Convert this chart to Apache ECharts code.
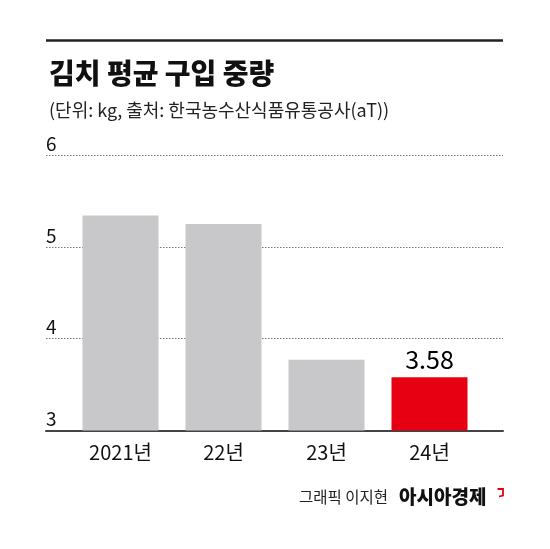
<!DOCTYPE html>
<html><head><meta charset="utf-8">
<script src="https://cdn.jsdelivr.net/npm/echarts@6/dist/echarts.min.js"></script>
<style>html,body{margin:0;padding:0;background:#fff}#c{width:550px;height:549px}</style>
</head><body><div id="c"></div>
<script>
const categories = ['2021년', '22년', '23년', '24년'];
const values = [5.34, 5.25, 3.77, 3.58];
const highlightIndex = 3;
const yMin = 3, yMax = 6, yStep = 1;
const titleText = '김치 평균 구입 중량';
const subtitleText = '(단위: kg, 출처: 한국농수산식품유통공사(aT))';
const creditText = '그래픽 이지현';
const brandText = '아시아경제';

const FONT = '"Noto Sans CJK KR", "Noto Sans", sans-serif';
const chart = echarts.init(document.getElementById('c'), null, {renderer: 'canvas'});

const barData = values.map((v, i) => i === highlightIndex ? {
  value: v,
  itemStyle: {color: '#e60012'},
  label: {show: true, position: 'top', distance: 5, formatter: '{c}', fontSize: 25, fontWeight: 'normal', color: '#000', fontFamily: FONT}
} : {value: v, itemStyle: {color: '#c8c8ca'}});

chart.setOption({
  backgroundColor: '#fff',
  animation: false,
  title: [
    {text: titleText, left: 44, top: 54, textStyle: {fontFamily: FONT, fontSize: 28, fontWeight: 900, color: '#111'}},
    {text: subtitleText, left: 44, top: 96, textStyle: {fontFamily: FONT, fontSize: 18, fontWeight: 'normal', color: '#222'}},
    {text: creditText, left: 294, top: 484, textStyle: {fontFamily: FONT, fontSize: 15.5, fontWeight: 'normal', color: '#222'}},
    {text: brandText, left: 394, top: 482, textStyle: {fontFamily: FONT, fontSize: 19, fontWeight: 900, color: '#111'}}
  ],
  graphic: [
    {type: 'line', shape: {x1: 46, y1: 40.5, x2: 503, y2: 40.5}, style: {stroke: '#222', lineWidth: 2.5}},
    {type: 'polyline', shape: {points: [[497.5, 489], [503, 489], [503, 495.5], [499, 496.5]]}, style: {stroke: '#e60012', lineWidth: 1.8, fill: null}}
  ],
  grid: [
    {left: 46, right: 47, top: 155, bottom: 118.5},
    {left: 69, right: 69, top: 155, bottom: 118.5}
  ],
  xAxis: [
    {gridIndex: 0, type: 'value', min: 0, max: 1, show: true,
      axisLine: {show: true, onZero: false, lineStyle: {color: '#444', width: 2}},
      axisTick: {show: false}, axisLabel: {show: false}, splitLine: {show: false}},
    {gridIndex: 1, type: 'category', data: categories,
      axisLine: {show: false}, axisTick: {show: false},
      axisLabel: {margin: 12, fontSize: 20, color: '#111', fontFamily: FONT}}
  ],
  yAxis: [
    {gridIndex: 0, type: 'value', min: yMin, max: yMax, interval: yStep,
      axisLine: {show: false}, axisTick: {show: false},
      axisLabel: {inside: true, margin: 0, align: 'left', verticalAlign: 'bottom', padding: [0, 0, 2, 0], lineHeight: 19,
        fontSize: 19, color: '#111', fontFamily: FONT},
      splitLine: {show: true, lineStyle: {color: '#777', type: [1.5, 1.5], width: 1}}},
    {gridIndex: 1, type: 'value', min: yMin, max: yMax, interval: yStep, show: false, splitLine: {show: false}}
  ],
  series: [{
    type: 'bar', xAxisIndex: 1, yAxisIndex: 1, barWidth: 76, data: barData, z: 3
  }]
});
</script></body></html>
